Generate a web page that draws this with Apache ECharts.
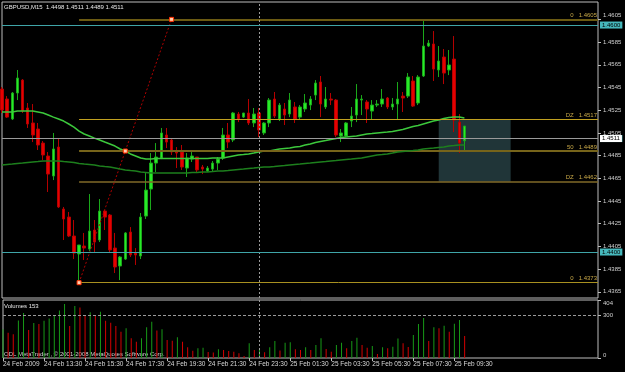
<!DOCTYPE html>
<html><head><meta charset="utf-8">
<script src="https://cdn.jsdelivr.net/npm/echarts@6/dist/echarts.min.js"></script>
<style>html,body{margin:0;padding:0;background:#000}#c{width:625px;height:372px}</style>
</head><body><div id="c"></div>
<script>
const titleText = 'GBPUSD,M15  1.4498 1.4511 1.4489 1.4511';
const volumeTitle = 'Volumes 153';
const copyright = 'ODL MetaTrader , \u00a9 2001-2008 MetaQuotes Software Corp.';
const tickLabels = ['24 Feb 2009','24 Feb 13:30','24 Feb 15:30','24 Feb 17:30','24 Feb 19:30','24 Feb 21:30','24 Feb 23:30','25 Feb 01:30','25 Feb 03:30','25 Feb 05:30','25 Feb 07:30','25 Feb 09:30'];
const slotCount = 117;
const opens = [1.45436,1.45348,1.45172,1.45401,1.45515,1.45269,1.45137,1.45084,1.44960,1.44846,
1.44670,1.44925,1.44379,1.44308,1.44141,1.43983,1.44053,1.44026,1.44194,1.44106,
1.44361,1.44326,1.44035,1.43877,1.43938,1.44176,1.43991,1.43965,1.44317,1.44555,
1.44784,1.44828,1.45031,1.44987,1.44881,1.44881,1.44740,1.44819,1.44837,1.44749,
1.44714,1.44731,1.44784,1.44828,1.45031,1.44987,1.45216,1.45189,1.45225,1.45137,
1.45225,1.45049,1.45137,1.45348,1.45172,1.45260,1.45216,1.45278,1.45189,1.45260,
1.45295,1.45383,1.45498,1.45278,1.45348,1.45339,1.45022,1.45022,1.45154,1.45207,
1.45339,1.45322,1.45242,1.45295,1.45304,1.45357,1.45278,1.45304,1.45374,1.45374,
1.45507,1.45313,1.45551,1.45815,1.45833,1.45604,1.45718,1.45604,1.45700,1.45145,
1.4498];
const closes = [1.45251,1.45189,1.45401,1.45533,1.45242,1.45128,1.45031,1.44943,1.44855,1.44687,
1.44908,1.44397,1.44291,1.44141,1.43991,1.44062,1.44035,1.44185,1.44088,1.44361,
1.44308,1.44018,1.43868,1.43956,1.44168,1.43974,1.43974,1.44308,1.44546,1.44784,
1.44837,1.45049,1.44969,1.44881,1.44872,1.44749,1.44828,1.44846,1.44723,1.44731,
1.44740,1.44784,1.44819,1.45031,1.44969,1.45225,1.45172,1.45225,1.45137,1.45216,
1.45075,1.45137,1.45339,1.45198,1.45295,1.45207,1.45339,1.45172,1.45278,1.45313,
1.45348,1.45489,1.45304,1.45348,1.45339,1.45031,1.45049,1.45137,1.45198,1.45348,
1.45348,1.45260,1.45295,1.45304,1.45348,1.45278,1.45304,1.45348,1.45357,1.45542,
1.45286,1.45542,1.45815,1.45841,1.45612,1.45683,1.45577,1.45648,1.45163,1.44960,
1.4511];
const lows = [1.45225,1.45181,1.45163,1.45339,1.45225,1.45093,1.44969,1.44899,1.44811,1.44529,
1.44634,1.44388,1.44106,1.44132,1.43938,1.4373,1.43930,1.44009,1.44000,1.44088,
1.44194,1.43991,1.43815,1.43753,1.43930,1.43956,1.43886,1.43938,1.44291,1.44370,
1.44705,1.44819,1.44916,1.44855,1.44740,1.44723,1.44661,1.44793,1.44696,1.44687,
1.44705,1.44714,1.44723,1.44811,1.44916,1.44969,1.45145,1.45181,1.45119,1.45101,
1.45013,1.45031,1.45101,1.45181,1.45154,1.45119,1.45189,1.45137,1.45172,1.45234,
1.45251,1.45339,1.45189,1.45260,1.45295,1.45013,1.44969,1.45013,1.45101,1.45145,
1.45207,1.45137,1.45172,1.45278,1.45278,1.45260,1.45251,1.45172,1.45234,1.45357,
1.45278,1.45295,1.45542,1.45806,1.45507,1.45542,1.45480,1.45559,1.45057,1.44872,
1.4489];
const highs = [1.45454,1.45374,1.45410,1.45604,1.45524,1.45313,1.45304,1.45137,1.44978,1.44881,
1.45049,1.44996,1.44397,1.44353,1.44282,1.44062,1.44168,1.44511,1.44282,1.44467,
1.44370,1.44335,1.44168,1.43965,1.44176,1.44220,1.44035,1.44344,1.44696,1.44872,
1.44960,1.45093,1.45093,1.44996,1.44925,1.44943,1.44872,1.44881,1.44837,1.44767,
1.44758,1.44802,1.44837,1.45093,1.45137,1.45234,1.45234,1.45225,1.45348,1.45269,
1.45269,1.45145,1.45357,1.45410,1.45313,1.45313,1.45401,1.45322,1.45295,1.45392,
1.45374,1.45515,1.45551,1.45454,1.45401,1.45348,1.45084,1.45145,1.45278,1.45480,
1.45383,1.45339,1.45339,1.45339,1.45436,1.45366,1.45357,1.45498,1.45410,1.45577,
1.45551,1.45559,1.4605,1.45868,1.45947,1.45815,1.45789,1.45780,1.45903,1.45216,
1.4511];
const volumes = [200,176,165,262,313,195,244,236,260,276,
293,330,376,223,362,351,300,318,300,322,
260,246,223,183,207,137,114,137,214,253,
192,200,125,121,144,114,75,51,68,72,
42,38,61,55,48,44,33,14,102,55,
62,40,75,118,53,107,110,61,56,75,
56,91,137,63,44,91,107,68,118,141,
91,72,84,28,75,68,78,135,102,77,
160,237,279,118,214,207,225,183,239,265,
153];
const maFast = [1.45234,1.45234,1.45234,1.45242,1.45242,1.45242,1.45242,1.45234,1.45225,1.45207,
1.45189,1.45172,1.45154,1.45128,1.45101,1.45066,1.45040,1.45022,1.45004,1.44987,
1.44969,1.44952,1.44934,1.44908,1.44890,1.44864,1.44846,1.44828,1.44819,1.44819,
1.44824,1.44824,1.44824,1.44824,1.44824,1.44824,1.44824,1.44824,1.44824,1.44824,
1.44824,1.44828,1.44828,1.44828,1.44837,1.44846,1.44855,1.44859,1.44864,1.44872,
1.44881,1.44890,1.44890,1.44899,1.44908,1.44912,1.44916,1.44925,1.44930,1.44943,
1.44952,1.44965,1.44974,1.44982,1.44991,1.45000,1.45009,1.45013,1.45018,1.45022,
1.45031,1.45040,1.45044,1.45049,1.45053,1.45057,1.45062,1.45071,1.45079,1.45093,
1.45106,1.45115,1.45128,1.45141,1.45154,1.45163,1.45176,1.45185,1.45189,1.45189,
1.45181];
const maSlow = [1.44767,1.44771,1.44775,1.44780,1.44784,1.44789,1.44793,1.44797,1.44802,1.44802,
1.44802,1.44802,1.44797,1.44793,1.44789,1.44780,1.44775,1.44771,1.44767,1.44758,
1.44753,1.44749,1.44740,1.44731,1.44723,1.44718,1.44714,1.44705,1.44701,1.44696,
1.44696,1.44696,1.44696,1.44696,1.44696,1.44696,1.44696,1.44701,1.44701,1.44705,
1.44705,1.44709,1.44714,1.44714,1.44718,1.44723,1.44727,1.44731,1.44736,1.44740,
1.44745,1.44749,1.44749,1.44753,1.44758,1.44762,1.44767,1.44771,1.44775,1.44780,
1.44784,1.44789,1.44793,1.44797,1.44802,1.44806,1.44811,1.44815,1.44819,1.44824,
1.44828,1.44837,1.44846,1.44855,1.44859,1.44864,1.44872,1.44881,1.44886,1.44890,
1.44894,1.44899,1.44908,1.44912,1.44916,1.44921,1.44925,1.44934,1.44938,1.44943,
1.44943];
const priceTicks = [1.4605,1.4585,1.4565,1.4545,1.4525,1.4505,1.4485,1.4465,1.4445,1.4425,1.4405,1.4385,1.4365];
const priceMin = 1.43595, priceMax = 1.46203;
const volumeTicks = [0,300,404];
const fibNames = ['0','DZ','50','DZ','0'];
const fibValues = [1.4605,1.4517,1.4489,1.4462,1.4373];
const fibAnchorIdx = [15,24,33];
const fibAnchorPrice = [1.4373,1.4489,1.4605];
const roundLevels = [1.4600,1.4500,1.4400];
const bidPrice = 1.4511;
const zoneIdx = [85,99];
const zonePrice = [1.4517,1.4462];
const separatorIdx = 50;
const volumeRef = 300;

const font = 'Liberation Sans';
const cats = Array.from({length: slotCount}, (_, i) => String(i));
const showTick = i => i % 8 === 0 && i / 8 < tickLabels.length;

const fibStyles = [
  {color:'#6b5a12', width:2},
  {color:'#c0a020', width:1},
  {color:'#76641a', width:2},
  {color:'#806a28', width:1.5},
  {color:'#a89020', width:1}
];

const fibLineData = [];
fibValues.forEach((v, k) => {
  fibLineData.push([
    {coord:[fibAnchorIdx[0], v], lineStyle:Object.assign({type:'solid'}, fibStyles[k]),
     label:{show:true, position:'insideEndTop', formatter: fibNames[k] + '   ' + v.toFixed(4), color:'#c8a848', fontSize:6, fontFamily:font, distance:1}},
    {coord:[slotCount - 1, v]}
  ]);
});
fibLineData.push([
  {coord:[fibAnchorIdx[0], fibAnchorPrice[0]], lineStyle:{color:'#b00000', width:1, type:[2,2]}, label:{show:false}},
  {coord:[fibAnchorIdx[2], fibAnchorPrice[2]]}
]);
fibLineData.push({xAxis: separatorIdx, lineStyle:{color:'#9a9a9a', width:1, type:[2,2]}, label:{show:false}});

const roundLineData = roundLevels.map(v => ({
  yAxis: v, lineStyle:{color:'#3fa5a8', width:1, type:'solid'},
  label:{show:true, position:'end', formatter: v.toFixed(4), backgroundColor:'#46b8bc', color:'#000', fontSize:6, fontFamily:font, padding:[1,2,0,2], distance:2}
}));
const bidLineData = [{
  yAxis: bidPrice, lineStyle:{color:'#9a9a9a', width:1, type:'solid'},
  label:{show:true, position:'end', formatter: bidPrice.toFixed(4), backgroundColor:'#ffffff', color:'#000', fontSize:6, fontFamily:font, padding:[1,2,0,2], distance:2}
}];

const candleData = opens.map((o, i) => [o, closes[i], lows[i], highs[i]]);
const volUp = '#179a17', volDown = '#d40000';
const volData = volumes.map((v, i) => ({value:v, itemStyle:{color: (i === 0 || v > volumes[i-1]) ? volUp : volDown}}));

const option = {
  animation:false,
  backgroundColor:'#000',
  grid:[
    {left:2, right:27, top:2, height:296, show:true, borderColor:'#bdbdbd', borderWidth:1, backgroundColor:'transparent'},
    {left:2, right:27, top:300, height:58, show:true, borderColor:'#bdbdbd', borderWidth:1, backgroundColor:'transparent'}
  ],
  xAxis:[
    {type:'category', data:cats, gridIndex:0, boundaryGap:false, axisLine:{show:false}, axisTick:{show:false}, axisLabel:{show:false}, splitLine:{show:false}},
    {type:'category', data:cats, gridIndex:1, boundaryGap:false, axisLine:{show:false},
     axisTick:{show:true, interval:(i)=>showTick(i), length:3, lineStyle:{color:'#bdbdbd'}},
     axisLabel:{show:true, interval:(i)=>showTick(i), formatter:(v, i)=>tickLabels[i/8] || '', align:'left', color:'#d8d8d8', fontSize:6.5, fontFamily:font, margin:3},
     splitLine:{show:false}}
  ],
  yAxis:[
    {type:'value', gridIndex:0, position:'right', min:priceMin, max:priceMax, scale:true, z:0,
     axisLine:{show:false}, splitLine:{show:false},
     axisTick:{show:true, customValues:priceTicks, length:3, lineStyle:{color:'#bdbdbd'}},
     axisLabel:{show:true, customValues:priceTicks,
       formatter:v=> v === priceTicks[0] ? '{top|' + v.toFixed(4) + '}' : v.toFixed(4),
       rich:{top:{color:'#d0d0d0', fontSize:6, fontFamily:font, padding:[0,0,8,0]}},
       color:'#d0d0d0', fontSize:6, fontFamily:font, margin:5}},
    {type:'value', gridIndex:1, position:'right', min:0, max:404,
     axisLine:{show:false}, splitLine:{show:false},
     axisTick:{show:true, customValues:volumeTicks, length:3, lineStyle:{color:'#bdbdbd'}},
     axisLabel:{show:true, customValues:volumeTicks, formatter:v=>String(v), color:'#d0d0d0', fontSize:6, fontFamily:font, margin:5,
       verticalAlignMinLabel:'bottom', verticalAlignMaxLabel:'top'}}
  ],
  series:[
    {type:'candlestick', xAxisIndex:0, yAxisIndex:0, data:candleData, barWidth:3, z:3,
     itemStyle:{color:'#28ea28', color0:'#e60000', borderColor:'#1aa81a', borderColor0:'#b40000', borderWidth:1},
     markLine:{silent:true, symbol:['none','none'], animation:false, data:fibLineData},
     markArea:{silent:true, itemStyle:{color:'#203538', opacity:1}, data:[[{coord:[zoneIdx[0], zonePrice[0]]},{coord:[zoneIdx[1], zonePrice[1]]}]]},
     markPoint:{silent:true, symbol:'rect', symbolSize:4, itemStyle:{color:'#ffd0b0', borderColor:'#ff3000', borderWidth:1}, label:{show:false},
       data: fibAnchorIdx.map((x, k) => ({coord:[x, fibAnchorPrice[k]]}))}
    },
    {type:'line', xAxisIndex:0, yAxisIndex:0, data:maFast, symbol:'none', z:4, lineStyle:{color:'#3cc83c', width:1.5},
     markLine:{silent:true, symbol:['none','none'], animation:false, data:roundLineData}},
    {type:'line', xAxisIndex:0, yAxisIndex:0, data:maSlow, symbol:'none', z:5, lineStyle:{color:'#1d7f1d', width:1.5},
     markLine:{silent:true, symbol:['none','none'], animation:false, data:bidLineData}},
    {type:'bar', xAxisIndex:1, yAxisIndex:1, data:volData, barWidth:1,
     markLine:{silent:true, symbol:['none','none'], label:{show:false}, data:[
       {yAxis:volumeRef, lineStyle:{color:'#9a9a9a', width:1, type:[3,2]}},
       {xAxis:separatorIdx, lineStyle:{color:'#9a9a9a', width:1, type:[2,2]}}
     ]}}
  ],
  graphic:[
    {type:'text', left:4, top:4, style:{text:titleText, fill:'#e8e8e8', font:'6px "' + font + '"'}},
    {type:'text', left:4, top:303, style:{text:volumeTitle, fill:'#e8e8e8', font:'6px "' + font + '"'}},
    {type:'text', left:4, top:351, style:{text:copyright, fill:'#d8d8d8', font:'6px "' + font + '"'}}
  ]
};
const chart = echarts.init(document.getElementById('c'));
chart.setOption(option);
</script></body></html>
